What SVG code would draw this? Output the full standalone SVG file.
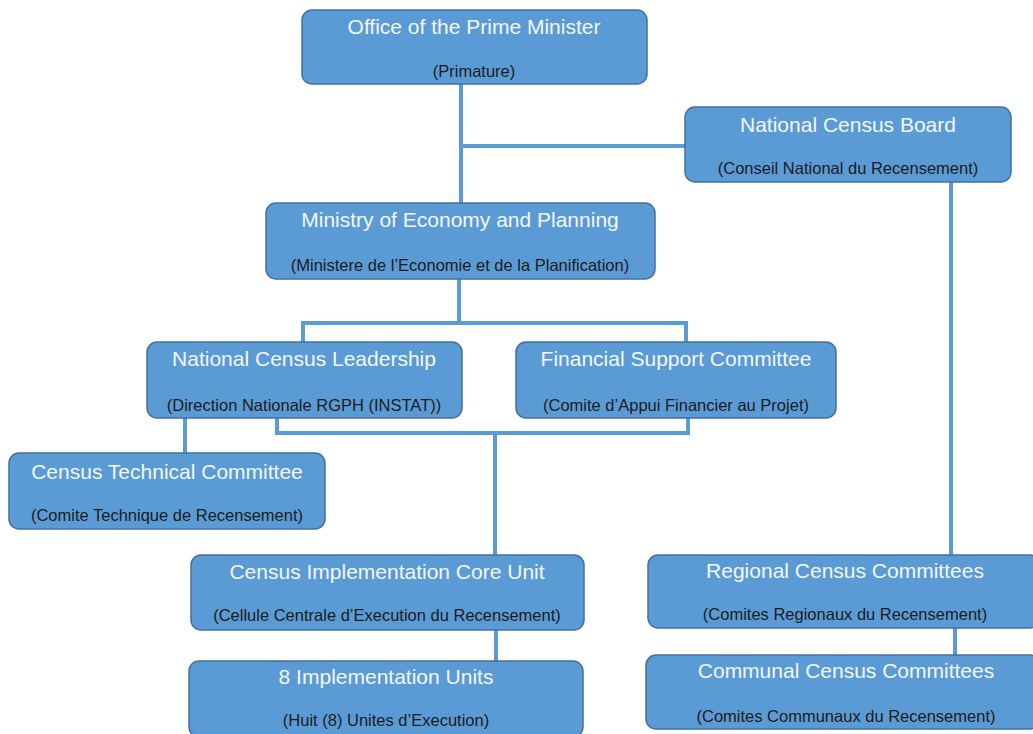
<svg xmlns="http://www.w3.org/2000/svg" width="1033" height="734" viewBox="0 0 1033 734">
<style>
.box{fill:#5b9bd5;stroke:#41719c;stroke-width:1.5}
.t{font-family:"Liberation Sans",Arial,sans-serif;font-size:21px;fill:#f4f7fb;text-anchor:middle}
.s{font-family:"Liberation Sans",Arial,sans-serif;font-size:16.5px;fill:#1c1c1c;text-anchor:middle}
.c{fill:none;stroke:#5b9bd5;stroke-width:4}
</style>
<rect width="1033" height="734" fill="#ffffff"/>
<g id="connectors">
<path class="c" d="M461 84V203"/>
<path class="c" d="M461 146H685"/>
<path class="c" d="M951 182V555"/>
<path class="c" d="M459 279V323"/>
<path class="c" d="M303 342V323H686V342"/>
<path class="c" d="M185 418V453"/>
<path class="c" d="M277 418V433H688V418"/>
<path class="c" d="M495 433V555"/>
<path class="c" d="M496 630V661"/>
<path class="c" d="M955 628V655"/>
</g>
<g id="pm"><rect class="box" x="302" y="10" width="345" height="74" rx="10"/><text class="t" x="474" y="34">Office of the Prime Minister</text><text class="s" x="474" y="77">(Primature)</text></g>
<g id="ncb"><rect class="box" x="685" y="107" width="326" height="75" rx="10"/><text class="t" x="848" y="132">National Census Board</text><text class="s" x="848" y="174">(Conseil National du Recensement)</text></g>
<g id="mep"><rect class="box" x="266" y="203" width="389" height="76" rx="10"/><text class="t" x="460" y="227">Ministry of Economy and Planning</text><text class="s" x="460" y="271">(Ministere de l’Economie et de la Planification)</text></g>
<g id="ncl"><rect class="box" x="147" y="342" width="315" height="76" rx="10"/><text class="t" x="304" y="366">National Census Leadership</text><text class="s" x="304" y="411">(Direction Nationale RGPH (INSTAT))</text></g>
<g id="fsc"><rect class="box" x="516" y="342" width="320" height="76" rx="10"/><text class="t" x="676" y="366">Financial Support Committee</text><text class="s" x="676" y="411">(Comite d’Appui Financier au Projet)</text></g>
<g id="ctc"><rect class="box" x="9" y="453" width="316" height="76" rx="10"/><text class="t" x="167" y="479">Census Technical Committee</text><text class="s" x="167" y="521">(Comite Technique de Recensement)</text></g>
<g id="cicu"><rect class="box" x="191" y="555" width="393" height="75" rx="10"/><text class="t" x="387" y="579">Census Implementation Core Unit</text><text class="s" x="387" y="621">(Cellule Centrale d’Execution du Recensement)</text></g>
<g id="iu"><rect class="box" x="189" y="661" width="394" height="76" rx="10"/><text class="t" x="386" y="684">8 Implementation Units</text><text class="s" x="386" y="726">(Huit (8) Unites d’Execution)</text></g>
<g id="rcc"><rect class="box" x="648" y="555" width="392" height="73" rx="10"/><text class="t" x="845" y="578">Regional Census Committees</text><text class="s" x="845" y="620">(Comites Regionaux du Recensement)</text></g>
<g id="ccc"><rect class="box" x="646" y="655" width="394" height="74" rx="10"/><text class="t" x="846" y="678">Communal Census Committees</text><text class="s" x="846" y="722">(Comites Communaux du Recensement)</text></g>
</svg>
